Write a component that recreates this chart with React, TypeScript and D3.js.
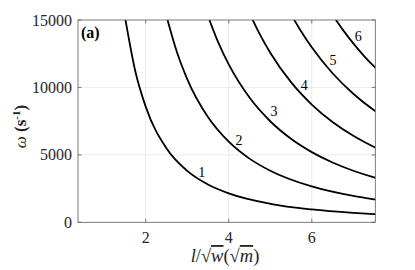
import React from "react";
import * as d3 from "d3";

// Mode curves: [x (l/sqrt(w)), omega (1/s)]
const mode1: [number, number][] = [
  [1.5, 15244], [1.75, 11200], [2.0, 8575], [2.5, 5488], [3.0, 3811], [3.5, 2800],
  [4.0, 2144], [5.0, 1372], [6.0, 953], [7.0, 700], [7.5, 610], [7.55, 602],
];
const mode2: [number, number][] = [
  [2.5, 15296], [2.75, 12641], [3.0, 10622], [3.5, 7804], [4.0, 5975], [4.5, 4721],
  [5.0, 3824], [6.0, 2656], [7.0, 1951], [7.5, 1700], [7.55, 1677],
];
const mode3: [number, number][] = [
  [3.5, 15290], [3.75, 13319], [4.0, 11706], [4.5, 9249], [5.0, 7492], [5.5, 6192],
  [6.0, 5203], [6.5, 4433], [7.0, 3822], [7.5, 3330], [7.55, 3286],
];
const mode4: [number, number][] = [
  [4.55, 15182], [4.75, 13930], [5.0, 12572], [5.5, 10390], [6.0, 8731], [6.5, 7439],
  [7.0, 6414], [7.5, 5588], [7.55, 5514],
];
const mode5: [number, number][] = [
  [5.55, 15161], [5.75, 14125], [6.0, 12972], [6.5, 11053], [7.0, 9531], [7.5, 8302],
  [7.55, 8193],
];
const mode6: [number, number][] = [
  [6.55, 15151], [6.75, 14266], [7.0, 13265], [7.25, 12366], [7.5, 11556], [7.55, 11404],
];
const series = [mode1, mode2, mode3, mode4, mode5, mode6];

const modeLabels = ["1", "2", "3", "4", "5", "6"];
const labelX = [3.35, 4.25, 5.09, 5.82, 6.51, 7.12];
const labelY = [3710, 6030, 8180, 10130, 12030, 13810];

const xTicks = [2, 4, 6];
const yTicks = [0, 5000, 10000, 15000];

export default function App() {
  const W = 415, H = 270;
  const left = 78, right = 375.3, top = 20, bottom = 222.3;
  const x = d3.scaleLinear().domain([0.37, 7.53]).range([left, right]);
  const y = d3.scaleLinear().domain([0, 15000]).range([bottom, top]);
  const line = d3
    .line<[number, number]>()
    .x((d) => x(d[0]))
    .y((d) => y(d[1]))
    .curve(d3.curveMonotoneX);
  const ff = { fontFamily: '"Liberation Serif", "Times New Roman", Tinos, "DejaVu Serif", serif' };
  const axisColor = "#5a5a5a";
  const tl = 3.5;

  return (
    <svg
      width={W}
      height={H}
      viewBox={`0 0 ${W} ${H}`}
      style={{ position: "absolute", left: 0, top: 0, background: "#fff", ...ff }}
    >
      <defs>
        <clipPath id="plotclip">
          <rect x={left} y={top} width={right - left} height={bottom - top} />
        </clipPath>
      </defs>
      <rect x={0} y={0} width={W} height={H} fill="#fff" />
      {/* grid */}
      {xTicks.map((t) => (
        <line key={"gx" + t} x1={x(t)} x2={x(t)} y1={top} y2={bottom} stroke="#e6e6e6" strokeWidth={0.8} />
      ))}
      {yTicks.slice(1, 3).map((t) => (
        <line key={"gy" + t} x1={left} x2={right} y1={y(t)} y2={y(t)} stroke="#e6e6e6" strokeWidth={0.8} />
      ))}
      {/* curves */}
      <g clipPath="url(#plotclip)">
        {series.map((s, i) => (
          <path key={i} d={line(s) || ""} fill="none" stroke="#000" strokeWidth={1.8} />
        ))}
      </g>
      {/* box */}
      <rect x={left} y={top} width={right - left} height={bottom - top} fill="none" stroke={axisColor} strokeWidth={0.8} />
      {/* ticks */}
      {xTicks.map((t) => (
        <g key={"tx" + t}>
          <line x1={x(t)} x2={x(t)} y1={bottom} y2={bottom - tl} stroke={axisColor} strokeWidth={0.8} />
          <line x1={x(t)} x2={x(t)} y1={top} y2={top + tl} stroke={axisColor} strokeWidth={0.8} />
          <text x={x(t)} y={243} fontSize={16} textAnchor="middle" fill="#262626" style={ff}>
            {t}
          </text>
        </g>
      ))}
      {yTicks.map((t) => (
        <g key={"ty" + t}>
          <line x1={left} x2={left + tl} y1={y(t)} y2={y(t)} stroke={axisColor} strokeWidth={0.8} />
          <line x1={right} x2={right - tl} y1={y(t)} y2={y(t)} stroke={axisColor} strokeWidth={0.8} />
          <text x={72} y={y(t)} fontSize={16} textAnchor="end" dominantBaseline="central" fill="#262626" style={ff}>
            {t}
          </text>
        </g>
      ))}
      {/* mode labels */}
      {modeLabels.map((m, i) => (
        <text
          key={"ml" + i}
          x={x(labelX[i])}
          y={y(labelY[i])}
          fontSize={14}
          textAnchor="middle"
          dominantBaseline="central"
          fill="#000"
          style={ff}
        >
          {m}
        </text>
      ))}
      {/* panel label */}
      <text x={81} y={38} fontSize={16} fontWeight="bold" fill="#000" style={ff}>
        (a)
      </text>
      {/* x label */}
      <text x={225} y={262} fontSize={18.5} textAnchor="middle" fill="#262626" style={ff}>
        <tspan fontStyle="italic">l</tspan>
        <tspan>/√</tspan>
        <tspan fontStyle="italic" textDecoration="overline">w</tspan>
        <tspan>(√</tspan>
        <tspan fontStyle="italic" textDecoration="overline">m</tspan>
        <tspan>)</tspan>
      </text>
      {/* y label */}
      <text
        transform={`translate(26,126.5) rotate(-90)`}
        fontSize={17}
        textAnchor="middle"
        fill="#262626"
        style={ff}
      >
        <tspan fontStyle="italic">ω</tspan>
        <tspan fontWeight="bold"> (s</tspan>
        <tspan fontWeight="bold" fontSize={11} dy={-6}>-1</tspan>
        <tspan fontWeight="bold" dy={6}>)</tspan>
      </text>
    </svg>
  );
}
